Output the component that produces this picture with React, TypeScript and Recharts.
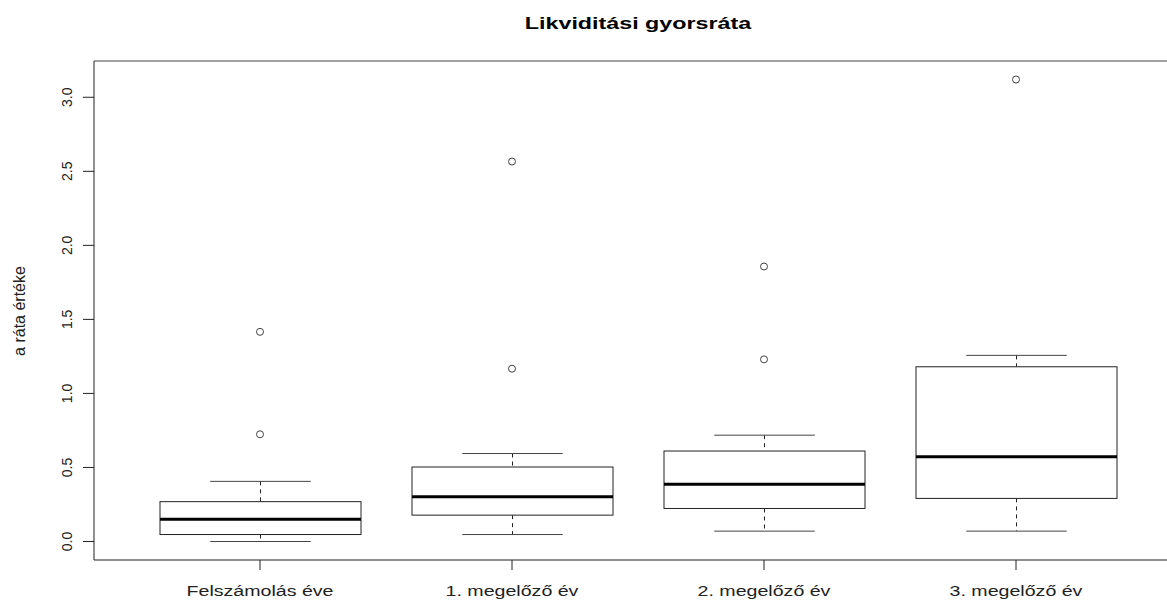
import {
  ComposedChart,
  Bar,
  Line,
  XAxis,
  YAxis,
  ReferenceLine,
  Customized,
} from 'recharts';

// quick ratio by year before liquidation
const categories = ['Felszámolás éve', '1. megelőző év', '2. megelőző év', '3. megelőző év'];
const lowerWhisker = [0.0, 0.047, 0.07, 0.07];
const q1 = [0.047, 0.178, 0.223, 0.291];
const median = [0.151, 0.303, 0.386, 0.573];
const q3 = [0.269, 0.503, 0.611, 1.18];
const upperWhisker = [0.406, 0.594, 0.718, 1.257];
const outlierLow: (number | null)[] = [0.724, 1.167, 1.23, null];
const outlierHigh = [1.416, 2.566, 1.857, 3.12];
const yTicks = [0, 0.5, 1, 1.5, 2, 2.5, 3];
const yDomain: [number, number] = [-0.125, 3.245];

const data = categories.map((name, i) => ({
  name,
  range: [q1[i], q3[i]],
  lo: lowerWhisker[i],
  q1: q1[i],
  med: median[i],
  q3: q3[i],
  hi: upperWhisker[i],
  outLow: outlierLow[i],
  outHigh: outlierHigh[i],
}));

const FONT = '"Liberation Sans", Arial, sans-serif';
const INK = '#222';

// box + whiskers, positioned from the bar geometry the y scale produced
const BoxShape = (props: any) => {
  const { x, y, width, height, payload } = props;
  const top = Math.min(y, y + height);
  const h = Math.abs(height);
  const ppu = h / (payload.q3 - payload.q1);
  const toY = (v: number) => top + h - (v - payload.q1) * ppu;
  const cx = x + width / 2;
  const cap = width / 4;
  return (
    <g>
      <line x1={cx} x2={cx} y1={toY(payload.hi)} y2={top} stroke={INK} strokeDasharray="4 4" />
      <line x1={cx} x2={cx} y1={top + h} y2={toY(payload.lo)} stroke={INK} strokeDasharray="4 4" />
      <line x1={cx - cap} x2={cx + cap} y1={toY(payload.hi)} y2={toY(payload.hi)} stroke="#444" />
      <line x1={cx - cap} x2={cx + cap} y1={toY(payload.lo)} y2={toY(payload.lo)} stroke="#444" />
      <rect x={x} y={top} width={width} height={h} fill="#fff" stroke={INK} />
      <line x1={x} x2={x + width} y1={toY(payload.med)} y2={toY(payload.med)} stroke="#000" strokeWidth={3} />
    </g>
  );
};

const OutlierDot = (props: any) => {
  const { cx, cy, value } = props;
  if (value == null || cy == null) return <g />;
  return <circle cx={cx} cy={cy} r={3.5} fill="#fff" stroke="#444" strokeWidth={1} />;
};

const XTick = ({ x, y, payload }: any) => (
  <text
    transform={`translate(${x},${y + 24}) scale(1.4,1)`}
    textAnchor="middle"
    fontFamily={FONT}
    fontSize={14}
    fill={INK}
  >
    {payload.value}
  </text>
);

const YTick = ({ x, y, payload }: any) => (
  <text
    transform={`translate(${x - 1},${y}) rotate(-90)`}
    textAnchor="middle"
    fontFamily={FONT}
    fontSize={14}
    fill={INK}
  >
    {Number(payload.value).toFixed(1)}
  </text>
);

const Title = () => (
  <text
    transform="translate(638,29) scale(1.37,1)"
    textAnchor="middle"
    fontFamily={FONT}
    fontWeight="bold"
    fontSize={17}
    fill="#000"
  >
    Likviditási gyorsráta
  </text>
);

const YLabel = () => (
  <text
    transform="translate(25,311) rotate(-90)"
    textAnchor="middle"
    fontFamily={FONT}
    fontSize={16}
    fill={INK}
  >
    a ráta értéke
  </text>
);

export default function App() {
  return (
    <div
      style={{
        position: 'absolute',
        left: 0,
        top: 0,
        width: 1167,
        height: 600,
        overflow: 'hidden',
        background: '#fff',
      }}
    >
      <ComposedChart
        width={1200}
        height={600}
        data={data}
        margin={{ top: 61, right: 18, left: 0, bottom: 0 }}
      >
        <XAxis
          dataKey="name"
          height={40}
          padding={{ left: 40, right: 40 }}
          tick={<XTick />}
          tickSize={10}
          tickMargin={2}
          axisLine={{ stroke: INK }}
          tickLine={{ stroke: INK }}
          interval={0}
        />
        <YAxis
          type="number"
          width={94}
          domain={yDomain}
          ticks={yTicks}
          allowDataOverflow
          tick={<YTick />}
          tickSize={11}
          tickMargin={10}
          axisLine={{ stroke: INK }}
          tickLine={{ stroke: INK }}
        />
        <ReferenceLine y={yDomain[1]} stroke="#444" ifOverflow="extendDomain" />
        <Bar dataKey="range" barSize={201} shape={<BoxShape />} isAnimationActive={false} />
        <Line
          dataKey="outLow"
          stroke="none"
          dot={<OutlierDot />}
          activeDot={false}
          connectNulls={false}
          isAnimationActive={false}
        />
        <Line
          dataKey="outHigh"
          stroke="none"
          dot={<OutlierDot />}
          activeDot={false}
          isAnimationActive={false}
        />
        <Customized component={<Title />} />
        <Customized component={<YLabel />} />
      </ComposedChart>
    </div>
  );
}
